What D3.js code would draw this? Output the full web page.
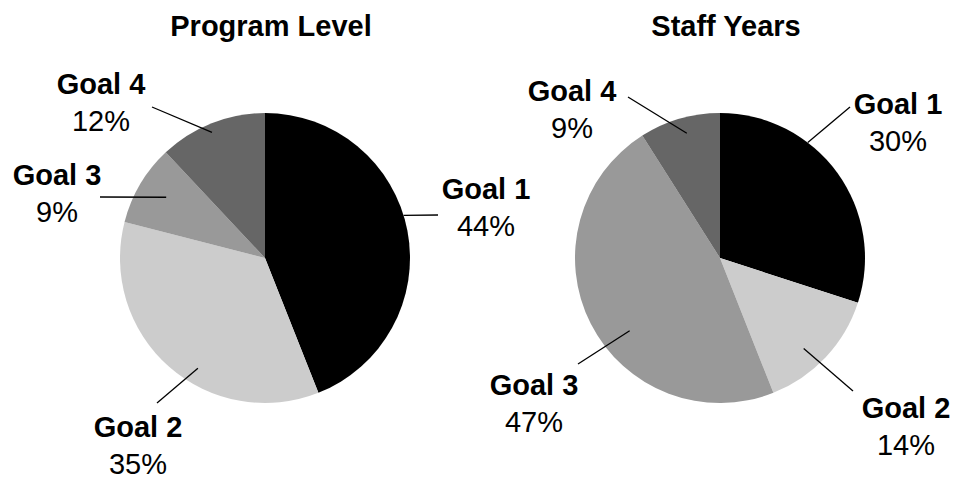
<!DOCTYPE html>
<html>
<head>
<meta charset="utf-8">
<script src="https://cdn.jsdelivr.net/npm/d3@7"></script>
<style>
  html, body { margin: 0; padding: 0; background: #fff; }
  svg { display: block; }
  text { font-family: "Liberation Sans", Arial, Helvetica, sans-serif; fill: #000; }
</style>
</head>
<body>
<svg id="chart" width="961" height="479"></svg>
<script>
// Share of effort by goal, two views
const goals = ["Goal 1", "Goal 2", "Goal 3", "Goal 4"];
const programLevel = [44, 35, 9, 12];
const staffYears = [30, 14, 47, 9];
const chartTitles = ["Program Level", "Staff Years"];

const goalColors = ["#000000", "#cccccc", "#999999", "#666666"];

// Label placement per slice: text anchor offset from the pie centre,
// leader-line outer end offset, and where the leader meets the slice
// (t = fraction across the slice's angle, rf = fraction of radius).
const labelLayouts = [
  [
    { lx: 221, ly: -59, ox: 173, oy: -43, t: 0.46, rf: 1.0 },
    { lx: -127, ly: 179, ox: -108, oy: 145, t: 0.42, rf: 0.89 },
    { lx: -208, ly: -73, ox: -165, oy: -61, t: 0.53, rf: 0.80 },
    { lx: -164, ly: -164, ox: -113, oy: -151, t: 0.47, rf: 0.94 }
  ],
  [
    { lx: 178, ly: -144, ox: 130, oy: -151, t: 0.345, rf: 1.0 },
    { lx: 186, ly: 160, ox: 133, oy: 133, t: 0.58, rf: 0.85 },
    { lx: -186, ly: 137, ox: -142, oy: 106, t: 0.43, rf: 0.80 },
    { lx: -148, ly: -157, ox: -92, oy: -161, t: 0.54, rf: 0.89 }
  ]
];

const svg = d3.select("#chart");
const radius = 145;
const centres = [[265, 258], [720, 258]];
const titleX = [271, 726];

const pie = d3.pie().sort(null).value(d => d);
const arc = d3.arc().innerRadius(0).outerRadius(radius);

[programLevel, staffYears].forEach((values, i) => {
  const [cx, cy] = centres[i];
  const g = svg.append("g").attr("transform", `translate(${cx},${cy})`);
  const arcs = pie(values);

  g.selectAll("path.slice")
    .data(arcs)
    .join("path")
    .attr("class", "slice")
    .attr("d", arc)
    .attr("fill", (d, k) => goalColors[k]);

  const layout = labelLayouts[i];

  // Leader lines from the label toward its slice
  g.selectAll("line.leader")
    .data(arcs)
    .join("line")
    .attr("class", "leader")
    .each(function (d, k) {
      const L = layout[k];
      const a = d.startAngle + (d.endAngle - d.startAngle) * L.t;
      const r = radius * L.rf;
      d3.select(this)
        .attr("x1", L.ox).attr("y1", L.oy)
        .attr("x2", r * Math.sin(a)).attr("y2", -r * Math.cos(a));
    })
    .attr("stroke", "#000")
    .attr("stroke-width", 1.3);

  const total = d3.sum(values);
  const labels = g.selectAll("g.label")
    .data(arcs)
    .join("g")
    .attr("class", "label")
    .attr("transform", (d, k) => `translate(${layout[k].lx},${layout[k].ly})`);

  labels.append("text")
    .attr("text-anchor", "middle")
    .attr("font-size", 29)
    .attr("font-weight", "bold")
    .text((d, k) => goals[k]);

  labels.append("text")
    .attr("text-anchor", "middle")
    .attr("font-size", 29)
    .attr("y", 37)
    .text(d => `${Math.round(d.value / total * 100)}%`);

  svg.append("text")
    .attr("x", titleX[i])
    .attr("y", 36)
    .attr("text-anchor", "middle")
    .attr("font-size", 29)
    .attr("font-weight", "bold")
    .text(chartTitles[i]);
});
</script>
</body>
</html>
